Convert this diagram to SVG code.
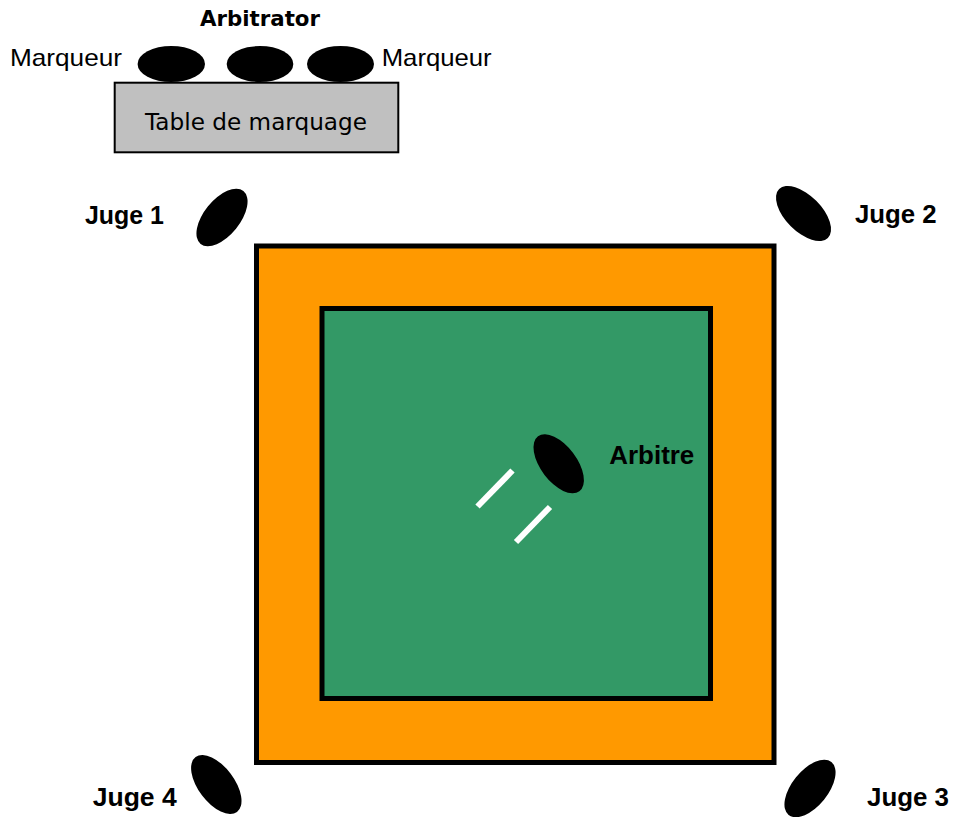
<svg xmlns="http://www.w3.org/2000/svg" width="954" height="817" viewBox="0 0 954 817">
  <style>
    .person { fill: #000; }
    .label { font-family: "Liberation Sans", Arial, sans-serif; fill: #000; }
    .bold { font-weight: bold; font-size: 25.5px; }
    .plain { font-size: 24px; }
    .ui { font-family: "DejaVu Sans", Verdana, sans-serif; fill: #000; }
  </style>
  <rect width="954" height="817" fill="#fff"/>

  <!-- competition area -->
  <g id="zone-securite">
    <rect x="256.5" y="246" width="517.5" height="516.5" fill="#ff9900" stroke="#000" stroke-width="5"/>
  </g>
  <g id="zone-competition">
    <rect x="322" y="308.5" width="388.5" height="390" fill="#339966" stroke="#000" stroke-width="5"/>
  </g>

  <!-- start marks -->
  <g id="marques" stroke="#fff" stroke-width="6">
    <line x1="477.5" y1="506.5" x2="512.5" y2="470.5"/>
    <line x1="516" y1="542" x2="550" y2="507"/>
  </g>

  <!-- scoring table -->
  <g id="table">
    <rect x="114.7" y="82.7" width="283.6" height="69.6" fill="#c0c0c0" stroke="#000" stroke-width="2"/>
    <text class="ui" x="256" y="130" font-size="23" text-anchor="middle" textLength="222" lengthAdjust="spacingAndGlyphs">Table de marquage</text>
  </g>
  <g id="marqueur-gauche">
    <ellipse class="person" cx="171.3" cy="64" rx="33.7" ry="18"/>
    <text class="label plain" x="10" y="66" textLength="112" lengthAdjust="spacingAndGlyphs">Marqueur</text>
  </g>
  <g id="arbitrator">
    <ellipse class="person" cx="260" cy="64" rx="33.3" ry="18"/>
    <text class="ui" x="260" y="26" font-size="21.5" font-weight="bold" text-anchor="middle" textLength="120" lengthAdjust="spacingAndGlyphs">Arbitrator</text>
  </g>
  <g id="marqueur-droite">
    <ellipse class="person" cx="340.5" cy="64" rx="33.5" ry="18"/>
    <text class="label plain" x="381.7" y="66" textLength="110" lengthAdjust="spacingAndGlyphs">Marqueur</text>
  </g>

  <!-- judges -->
  <g id="juge1">
    <ellipse class="person" cx="222" cy="217.5" rx="34" ry="18" transform="rotate(-51 222 217.5)"/>
    <text class="label bold" x="85" y="223.5" textLength="79" lengthAdjust="spacingAndGlyphs">Juge 1</text>
  </g>
  <g id="juge2">
    <ellipse class="person" cx="803.5" cy="213.5" rx="34.5" ry="18" transform="rotate(45 803.5 213.5)"/>
    <text class="label bold" x="855" y="222.5" textLength="81.7" lengthAdjust="spacingAndGlyphs">Juge 2</text>
  </g>
  <g id="juge3">
    <ellipse class="person" cx="810" cy="788.5" rx="34" ry="18" transform="rotate(-51 810 788.5)"/>
    <text class="label bold" x="867" y="805.5" textLength="82" lengthAdjust="spacingAndGlyphs">Juge 3</text>
  </g>
  <g id="juge4">
    <ellipse class="person" cx="216.3" cy="784.5" rx="34.4" ry="18" transform="rotate(53 216.3 784.5)"/>
    <text class="label bold" x="92.7" y="805.5" textLength="84" lengthAdjust="spacingAndGlyphs">Juge 4</text>
  </g>

  <!-- referee -->
  <g id="arbitre">
    <ellipse class="person" cx="558.7" cy="463.8" rx="34.4" ry="18" transform="rotate(53 558.7 463.8)"/>
    <text class="label bold" x="609.3" y="463.5" textLength="85" lengthAdjust="spacingAndGlyphs">Arbitre</text>
  </g>
</svg>
